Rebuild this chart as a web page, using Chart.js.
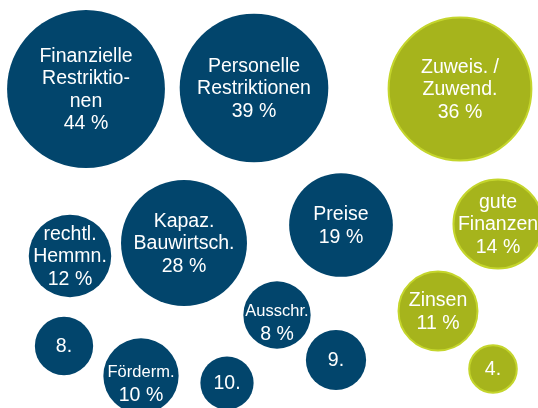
<!DOCTYPE html>
<html>
<head>
<meta charset="utf-8">
<script src="https://cdn.jsdelivr.net/npm/chart.js@4"></script>
<style>
  html, body { margin: 0; padding: 0; background: #fff; }
  #wrap { width: 538px; height: 408px; position: relative; }
</style>
</head>
<body>
<div id="wrap"><canvas id="c"></canvas></div>
<script>
// Kategorien (Zeilen je Blase), Anteile in %, Lage der Blasen
const labels = [
    ['Finanzielle', 'Restriktio-', 'nen', '44 %'],
    ['Personelle', 'Restriktionen', '39 %'],
    ['Zuweis. /', 'Zuwend.', '36 %'],
    ['rechtl.', 'Hemmn.', '12 %'],
    ['Kapaz.', 'Bauwirtsch.', '28 %'],
    ['Preise', '19 %'],
    ['gute', 'Finanzen', '14 %'],
    ['Ausschr.', '8 %'],
    ['Zinsen', '11 %'],
    ['8.'],
    ['Förderm.', '10 %'],
    ['10.'],
    ['9.'],
    ['4.']
];
const values = [44, 39, 36, 12, 28, 19, 14, 8, 11, 6, 10, 5, 6.4, 4];
const posX = [86, 254, 460, 70, 184, 341, 498, 277, 438, 64, 141, 227, 336, 493];
const posY = [89, 88, 89, 256, 243, 225, 224, 315, 311, 346, 376, 383, 360, 369];
const group = ['h', 'h', 'f', 'h', 'h', 'h', 'f', 'h', 'f', 'h', 'h', 'h', 'h', 'f']; // h = Hemmnis, f = Förderung
const smallFirstLine = ['Ausschr.', 'Förderm.'];

const BLUE = '#02456c';
const GREEN = '#a6b41c';
const GREEN_EDGE = '#c4d52c';

// Blasenfläche proportional zum Anteil
const radiusOf = v => 11.9 * Math.sqrt(v);

const bubbleLabels = {
    id: 'bubbleLabels',
    afterDatasetsDraw(chart) {
        const ctx = chart.ctx;
        const meta = chart.getDatasetMeta(0);
        ctx.save();
        ctx.fillStyle = '#fff';
        ctx.textAlign = 'center';
        ctx.textBaseline = 'middle';
        meta.data.forEach((el, i) => {
            const lines = labels[i];
            const lh = 22.5;
            // kleine Beschriftung sitzt im Original etwas tiefer
            const shift = smallFirstLine.includes(lines[0]) ? 7 : 0;
            const y0 = el.y - (lines.length - 1) * lh / 2 + shift;
            lines.forEach((t, j) => {
                const small = smallFirstLine.includes(t);
                ctx.font = (small ? '16.5px' : '19.5px') + ' "Liberation Sans", Arial, sans-serif';
                ctx.fillText(t, el.x, y0 + j * (small ? 21 : lh) + 1);
            });
        });
        ctx.restore();
    }
};

new Chart(document.getElementById('c'), {
    type: 'bubble',
    data: {
        datasets: [{
            data: values.map((v, i) => ({ x: posX[i], y: posY[i], r: radiusOf(v) })),
            backgroundColor: group.map(g => g === 'f' ? GREEN : BLUE),
            borderColor: group.map(g => g === 'f' ? GREEN_EDGE : BLUE),
            borderWidth: group.map(g => g === 'f' ? 2 : 0),
            clip: false
        }]
    },
    options: {
        responsive: true,
        maintainAspectRatio: false,
        animation: false,
        events: [],
        layout: { padding: 0, autoPadding: false },
        scales: {
            x: { type: 'linear', min: 0, max: 538, display: false },
            y: { type: 'linear', min: 0, max: 408, reverse: true, display: false }
        },
        plugins: {
            legend: { display: false },
            tooltip: { enabled: false }
        }
    },
    plugins: [bubbleLabels]
});
</script>
</body>
</html>
